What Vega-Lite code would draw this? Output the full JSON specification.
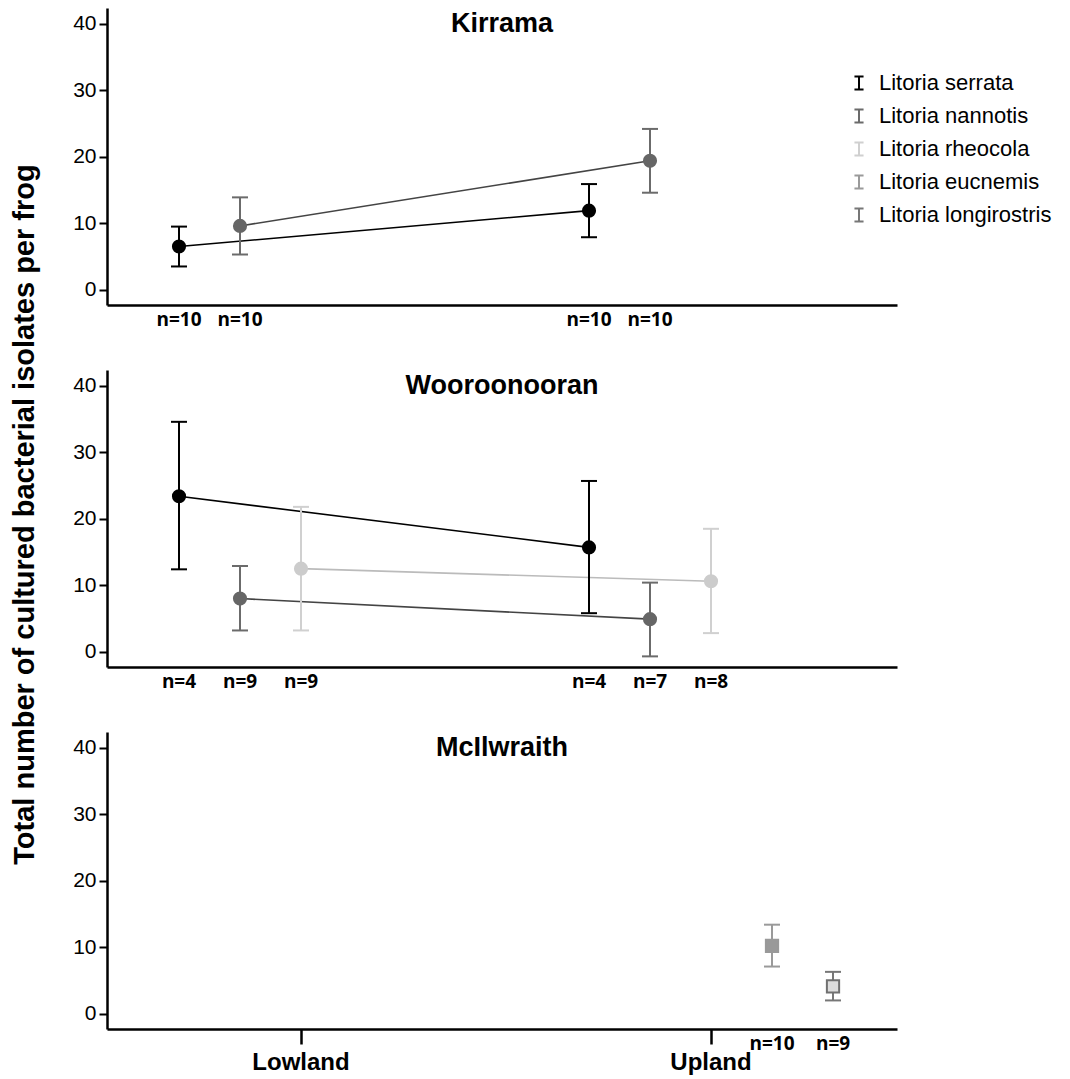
{
  "$schema": "https://vega.github.io/schema/vega-lite/v6.json",
  "background": "white",
  "padding": {"left": 10, "top": 8, "right": 5, "bottom": 5},
  "config": {
    "view": {"stroke": null},
    "font": "Liberation Sans"
  },
  "data": {"values": [
    {"region": "Kirrama", "site": "Lowland", "species": "Litoria serrata", "mean": 6.5, "low": 3.5, "high": 9.5, "n": "n=10"},
    {"region": "Kirrama", "site": "Lowland", "species": "Litoria nannotis", "mean": 9.6, "low": 5.3, "high": 13.9, "n": "n=10"},
    {"region": "Kirrama", "site": "Upland", "species": "Litoria serrata", "mean": 11.9, "low": 7.9, "high": 15.9, "n": "n=10"},
    {"region": "Kirrama", "site": "Upland", "species": "Litoria nannotis", "mean": 19.4, "low": 14.6, "high": 24.2, "n": "n=10"},
    {"region": "Wooroonooran", "site": "Lowland", "species": "Litoria serrata", "mean": 23.4, "low": 12.4, "high": 34.6, "n": "n=4"},
    {"region": "Wooroonooran", "site": "Lowland", "species": "Litoria nannotis", "mean": 8.0, "low": 3.2, "high": 12.9, "n": "n=9"},
    {"region": "Wooroonooran", "site": "Lowland", "species": "Litoria rheocola", "mean": 12.5, "low": 3.2, "high": 21.8, "n": "n=9"},
    {"region": "Wooroonooran", "site": "Upland", "species": "Litoria serrata", "mean": 15.7, "low": 5.8, "high": 25.7, "n": "n=4"},
    {"region": "Wooroonooran", "site": "Upland", "species": "Litoria nannotis", "mean": 4.9, "low": -0.7, "high": 10.4, "n": "n=7"},
    {"region": "Wooroonooran", "site": "Upland", "species": "Litoria rheocola", "mean": 10.6, "low": 2.8, "high": 18.5, "n": "n=8"},
    {"region": "McIlwraith", "site": "Upland", "species": "Litoria eucnemis", "mean": 10.2, "low": 7.1, "high": 13.4, "n": "n=10"},
    {"region": "McIlwraith", "site": "Upland", "species": "Litoria longirostris", "mean": 4.1, "low": 2.0, "high": 6.3, "n": "n=9"}
  ]},
  "spacing": 65,
  "bounds": "flush",
  "resolve": {"scale": {"color": "independent", "fill": "independent", "stroke": "independent"}, "legend": {"color": "independent", "fill": "independent", "stroke": "independent"}},
  "vconcat": [
    {
      "width": 790, "height": 297,
      "title": {"text": "Kirrama", "fontSize": 27, "fontWeight": "bold", "font": "Liberation Sans", "anchor": "middle", "frame": "group", "offset": -30, "color": "black"},
      "transform": [{"filter": "datum.region === 'Kirrama'"}],
      "encoding": {
        "x": {"field": "site", "type": "nominal", "scale": {"domain": ["Lowland", "Upland"], "paddingInner": 0.2, "paddingOuter": 0.0634, "align": 0.577},
              "axis": {"title": null, "labels": false, "ticks": false, "domain": true, "domainColor": "black", "domainWidth": 2.5}},
        "xOffset": {"field": "species", "type": "nominal", "scale": {"domain": ["Litoria serrata", "Litoria nannotis", "Litoria rheocola", "Litoria eucnemis", "Litoria longirostris"], "paddingInner": 0, "paddingOuter": 0.1885}}
      },
      "layer": [
        {"mark": {"type": "line", "strokeWidth": 1.6},
         "encoding": {
           "y": {"field": "mean", "type": "quantitative", "scale": {"domain": [-2.3, 42.4], "nice": false, "zero": false},
                 "axis": {"title": "Total number of cultured bacterial isolates per frog", "titleY": 506, "titleFontSize": 29, "titleFontWeight": "bold", "titleColor": "black", "titlePadding": 33, "values": [0, 10, 20, 30, 40], "grid": false, "tickSize": 8, "tickWidth": 2, "tickColor": "black", "domainColor": "black", "domainWidth": 2.5, "labelFontSize": 21, "labelColor": "black", "labelPadding": 3}},
           "stroke": {"field": "species", "type": "nominal", "legend": null, "scale": {"domain": ["Litoria nannotis", "Litoria serrata", "Litoria rheocola", "Litoria eucnemis", "Litoria longirostris"], "range": ["#444444", "#000000", "#bbbbbb", "#999999", "#707070"]}}
         }},
        {"mark": {"type": "rule", "strokeWidth": 2},
         "encoding": {
           "y": {"field": "low", "type": "quantitative"}, "y2": {"field": "high"},
           "color": {"field": "species", "type": "nominal",
                     "scale": {"domain": ["Litoria serrata", "Litoria nannotis", "Litoria rheocola", "Litoria eucnemis", "Litoria longirostris"], "range": ["#000000", "#6b6b6b", "#d0d0d0", "#9a9a9a", "#777777"]},
                     "legend": {"orient": "none", "legendX": 741, "legendY": 64, "title": null,
                                "symbolType": "M-0.7,-1H0.7M0,-1V1M-0.7,1H0.7", "symbolSize": 169, "symbolStrokeWidth": 2,
                                "labelFont": "Liberation Sans", "labelFontSize": 22, "labelColor": "black", "labelLimit": 300,
                                "rowPadding": 11, "labelOffset": 9}}
         }},
        {"mark": {"type": "tick", "thickness": 2, "size": 16, "opacity": 1},
         "encoding": {"y": {"field": "low", "type": "quantitative"}, "color": {"field": "species", "type": "nominal"}}},
        {"mark": {"type": "tick", "thickness": 2, "size": 16, "opacity": 1},
         "encoding": {"y": {"field": "high", "type": "quantitative"}, "color": {"field": "species", "type": "nominal"}}},
        {"mark": {"type": "point", "shape": "circle", "filled": true, "size": 200, "opacity": 1},
         "encoding": {
           "y": {"field": "mean", "type": "quantitative"},
           "fill": {"field": "species", "type": "nominal", "legend": null, "scale": {"domain": ["Litoria longirostris", "Litoria eucnemis", "Litoria rheocola", "Litoria nannotis", "Litoria serrata"], "range": ["#dddddd", "#999999", "#cccccc", "#666666", "#000000"]}}
         }},
        {"mark": {"type": "text", "font": "Open Sans", "fontWeight": "bold", "fontSize": 19, "baseline": "middle", "color": "black"},
         "encoding": {"y": {"datum": -4.6}, "text": {"field": "n"}}}
      ]
    },
    {
      "width": 790, "height": 297,
      "title": {"text": "Wooroonooran", "fontSize": 27, "fontWeight": "bold", "font": "Liberation Sans", "anchor": "middle", "frame": "group", "offset": -30, "color": "black"},
      "transform": [{"filter": "datum.region === 'Wooroonooran'"}],
      "encoding": {
        "x": {"field": "site", "type": "nominal", "scale": {"domain": ["Lowland", "Upland"], "paddingInner": 0.2, "paddingOuter": 0.0634, "align": 0.577},
              "axis": {"title": null, "labels": false, "ticks": false, "domain": true, "domainColor": "black", "domainWidth": 2.5}},
        "xOffset": {"field": "species", "type": "nominal", "scale": {"domain": ["Litoria serrata", "Litoria nannotis", "Litoria rheocola", "Litoria eucnemis", "Litoria longirostris"], "paddingInner": 0, "paddingOuter": 0.1885}}
      },
      "layer": [
        {"mark": {"type": "line", "strokeWidth": 1.6},
         "encoding": {
           "y": {"field": "mean", "type": "quantitative", "scale": {"domain": [-2.3, 42.4], "nice": false, "zero": false},
                 "axis": {"title": null, "values": [0, 10, 20, 30, 40], "grid": false, "tickSize": 8, "tickWidth": 2, "tickColor": "black", "domainColor": "black", "domainWidth": 2.5, "labelFontSize": 21, "labelColor": "black", "labelPadding": 3}},
           "stroke": {"field": "species", "type": "nominal", "legend": null, "scale": {"domain": ["Litoria nannotis", "Litoria serrata", "Litoria rheocola", "Litoria eucnemis", "Litoria longirostris"], "range": ["#444444", "#000000", "#bbbbbb", "#999999", "#707070"]}}
         }},
        {"mark": {"type": "rule", "strokeWidth": 2},
         "encoding": {
           "y": {"field": "low", "type": "quantitative"}, "y2": {"field": "high"},
           "color": {"field": "species", "type": "nominal", "legend": null, "scale": {"domain": ["Litoria serrata", "Litoria nannotis", "Litoria rheocola", "Litoria eucnemis", "Litoria longirostris"], "range": ["#000000", "#6b6b6b", "#d0d0d0", "#9a9a9a", "#777777"]}}
         }},
        {"mark": {"type": "tick", "thickness": 2, "size": 16, "opacity": 1},
         "encoding": {"y": {"field": "low", "type": "quantitative"}, "color": {"field": "species", "type": "nominal", "legend": null}}},
        {"mark": {"type": "tick", "thickness": 2, "size": 16, "opacity": 1},
         "encoding": {"y": {"field": "high", "type": "quantitative"}, "color": {"field": "species", "type": "nominal", "legend": null}}},
        {"mark": {"type": "point", "shape": "circle", "filled": true, "size": 200, "opacity": 1},
         "encoding": {
           "y": {"field": "mean", "type": "quantitative"},
           "fill": {"field": "species", "type": "nominal", "legend": null, "scale": {"domain": ["Litoria longirostris", "Litoria eucnemis", "Litoria rheocola", "Litoria nannotis", "Litoria serrata"], "range": ["#dddddd", "#999999", "#cccccc", "#666666", "#000000"]}}
         }},
        {"mark": {"type": "text", "font": "Open Sans", "fontWeight": "bold", "fontSize": 19, "baseline": "middle", "color": "black"},
         "encoding": {"y": {"datum": -4.6}, "text": {"field": "n"}}}
      ]
    },
    {
      "width": 790, "height": 297,
      "title": {"text": "McIlwraith", "fontSize": 27, "fontWeight": "bold", "font": "Liberation Sans", "anchor": "middle", "frame": "group", "offset": -30, "color": "black"},
      "transform": [{"filter": "datum.region === 'McIlwraith'"}],
      "encoding": {
        "x": {"field": "site", "type": "nominal", "scale": {"domain": ["Lowland", "Upland"], "paddingInner": 0.2, "paddingOuter": 0.0634, "align": 0.577},
              "axis": {"title": null, "labels": true, "ticks": true, "tickSize": 15, "tickWidth": 2.5, "tickColor": "black", "labelAngle": 0, "labelFontSize": 24, "labelFontWeight": "bold", "labelColor": "black", "labelPadding": 6, "domain": true, "domainColor": "black", "domainWidth": 2.5}},
        "xOffset": {"field": "species", "type": "nominal", "scale": {"domain": ["Litoria serrata", "Litoria nannotis", "Litoria rheocola", "Litoria eucnemis", "Litoria longirostris"], "paddingInner": 0, "paddingOuter": 0.1885}}
      },
      "layer": [
        {"mark": {"type": "rule", "strokeWidth": 2},
         "encoding": {
           "y": {"field": "low", "type": "quantitative", "scale": {"domain": [-2.3, 42.4], "nice": false, "zero": false},
                 "axis": {"title": null, "values": [0, 10, 20, 30, 40], "grid": false, "tickSize": 8, "tickWidth": 2, "tickColor": "black", "domainColor": "black", "domainWidth": 2.5, "labelFontSize": 21, "labelColor": "black", "labelPadding": 3}},
           "y2": {"field": "high"},
           "color": {"field": "species", "type": "nominal", "legend": null, "scale": {"domain": ["Litoria serrata", "Litoria nannotis", "Litoria rheocola", "Litoria eucnemis", "Litoria longirostris"], "range": ["#000000", "#6b6b6b", "#d0d0d0", "#9a9a9a", "#777777"]}}
         }},
        {"mark": {"type": "tick", "thickness": 2, "size": 16, "opacity": 1},
         "encoding": {"y": {"field": "low", "type": "quantitative"}, "color": {"field": "species", "type": "nominal", "legend": null}}},
        {"mark": {"type": "tick", "thickness": 2, "size": 16, "opacity": 1},
         "encoding": {"y": {"field": "high", "type": "quantitative"}, "color": {"field": "species", "type": "nominal", "legend": null}}},
        {"mark": {"type": "point", "shape": "square", "filled": true, "size": 150, "opacity": 1, "strokeWidth": 2},
         "encoding": {
           "y": {"field": "mean", "type": "quantitative"},
           "fill": {"field": "species", "type": "nominal", "legend": null, "scale": {"domain": ["Litoria longirostris", "Litoria eucnemis", "Litoria rheocola", "Litoria nannotis", "Litoria serrata"], "range": ["#dddddd", "#999999", "#cccccc", "#666666", "#000000"]}},
           "stroke": {"field": "species", "type": "nominal", "legend": null, "scale": {"domain": ["Litoria nannotis", "Litoria serrata", "Litoria rheocola", "Litoria eucnemis", "Litoria longirostris"], "range": ["#444444", "#000000", "#bbbbbb", "#999999", "#707070"]}}
         }},
        {"mark": {"type": "text", "font": "Open Sans", "fontWeight": "bold", "fontSize": 19, "baseline": "middle", "color": "black"},
         "encoding": {"y": {"datum": -4.6}, "text": {"field": "n"}}}
      ]
    }
  ]
}
